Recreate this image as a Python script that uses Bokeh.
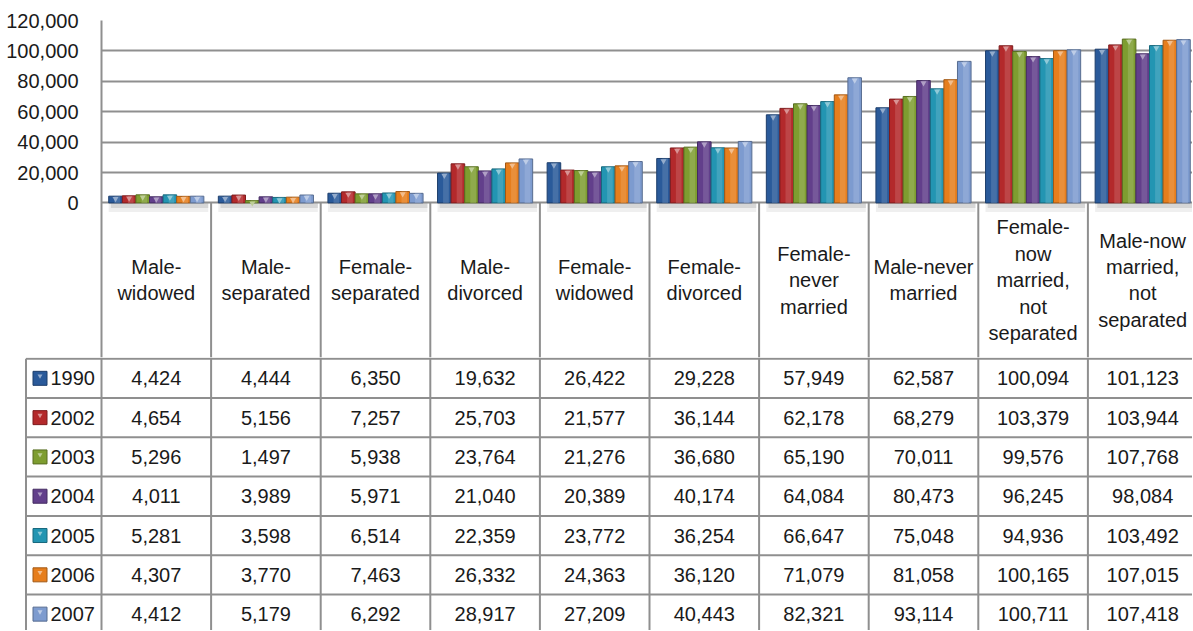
import numpy as np
from bokeh.plotting import figure
from bokeh.models import FixedTicker, NumeralTickFormatter, Range1d, ColumnDataSource
from bokeh.core.properties import value
from bokeh.embed import file_html
from bokeh.resources import INLINE

# ---------------- data ----------------
categories = ["Male-widowed", "Male-separated", "Female-separated", "Male-divorced",
              "Female-widowed", "Female-divorced", "Female-never married",
              "Male-never married", "Female-now married, not separated",
              "Male-now married, not separated"]
header_labels = ["Male-\nwidowed", "Male-\nseparated", "Female-\nseparated", "Male-\ndivorced",
                 "Female-\nwidowed", "Female-\ndivorced", "Female-\nnever\nmarried",
                 "Male-never\nmarried", "Female-\nnow\nmarried,\nnot\nseparated",
                 "Male-now\nmarried,\nnot\nseparated"]
years = ["1990", "2002", "2003", "2004", "2005", "2006", "2007"]
v1990 = [4424, 4444, 6350, 19632, 26422, 29228, 57949, 62587, 100094, 101123]
v2002 = [4654, 5156, 7257, 25703, 21577, 36144, 62178, 68279, 103379, 103944]
v2003 = [5296, 1497, 5938, 23764, 21276, 36680, 65190, 70011, 99576, 107768]
v2004 = [4011, 3989, 5971, 21040, 20389, 40174, 64084, 80473, 96245, 98084]
v2005 = [5281, 3598, 6514, 22359, 23772, 36254, 66647, 75048, 94936, 103492]
v2006 = [4307, 3770, 7463, 26332, 24363, 36120, 71079, 81058, 100165, 107015]
v2007 = [4412, 5179, 6292, 28917, 27209, 40443, 82321, 93114, 100711, 107418]
series = [v1990, v2002, v2003, v2004, v2005, v2006, v2007]
y_ticks = [0, 20000, 40000, 60000, 80000, 100000, 120000]
colors = ["#2A5A9A", "#B3292B", "#7E9D30", "#623F8B", "#2395B2", "#E67E1D", "#7D9BCF"]

# ---------------- layout constants (page pixels) ----------------
FONT = "Liberation Sans"
FS = "20px"
TXT = "#1a1a1a"
LINE = "#8f8f8f"
MARGIN = 0              # the page template renders the figures flush at the top-left
W = 1192
TOTAL_H = 630
COL = 109.6             # px per category column
PLOT_LEFT = 101         # page x of first category column
PAGE_RIGHT = MARGIN + W
PLOT_TOP = 20           # page y of 120,000
ZERO_Y = 202.4          # page y of 0
HEADER_BOTTOM = 357     # page y of table header bottom
ROW_H = 39.3

def shade(c, f):
    c = c.lstrip("#")
    r, g, b = (int(c[i:i + 2], 16) for i in (0, 2, 4))
    if f < 1:
        r, g, b = (int(v * f) for v in (r, g, b))
    else:
        t = f - 1
        r, g, b = (int(v + (255 - v) * t) for v in (r, g, b))
    return "#%02x%02x%02x" % (r, g, b)

x_end = (PAGE_RIGHT - PLOT_LEFT) / COL
n = len(categories)
nser = len(series)
BW = 0.124
val_per_px = max(y_ticks) / (ZERO_Y - PLOT_TOP)
y_bottom = -(HEADER_BOTTOM - ZERO_Y) * val_per_px

# ---------------- top: bar chart + table header ----------------
TOP_H = HEADER_BOTTOM - MARGIN
top = figure(width=W, height=TOP_H, x_range=Range1d(0, x_end),
             y_range=Range1d(y_bottom, max(y_ticks)),
             output_backend="svg", toolbar_location=None, x_axis_location=None,
             min_border_left=PLOT_LEFT - MARGIN, min_border_right=0,
             min_border_top=PLOT_TOP - MARGIN, min_border_bottom=0)
top.outline_line_color = None
top.xgrid.visible = False
top.ygrid.ticker = FixedTicker(ticks=y_ticks)
top.ygrid.grid_line_color = LINE
top.ygrid.grid_line_width = 2
ax = top.yaxis[0]
ax.ticker = FixedTicker(ticks=y_ticks)
ax.formatter = NumeralTickFormatter(format="0,0")
ax.major_tick_in = 0
ax.major_tick_out = 0
ax.minor_tick_in = 0
ax.minor_tick_out = 0
ax.axis_line_color = LINE
ax.axis_line_width = 2
ax.major_label_standoff = 23
ax.major_label_text_font = FONT
ax.major_label_text_font_size = FS
ax.major_label_text_color = TXT

# shadows under each bar group
gl = [i + 0.5 - nser * BW / 2 for i in range(n)]
gr = [i + 0.5 + nser * BW / 2 + 0.04 for i in range(n)]
top.quad(left=gl, right=gr, top=0, bottom=-9 * val_per_px, fill_color="#9a9a9a",
         fill_alpha=0.16, line_color=None)
top.quad(left=[l + 0.02 for l in gl], right=gr, top=0, bottom=-5 * val_per_px,
         fill_color="#8a8a8a", fill_alpha=0.25, line_color=None)

for j, vals in enumerate(series):
    xs = [i + 0.5 + (j - (nser - 1) / 2) * BW for i in range(n)]
    src = ColumnDataSource(dict(x=xs, top=vals))
    top.vbar(x="x", top="top", bottom=0, width=BW, source=src,
             fill_color=colors[j], line_color=shade(colors[j], 0.7), line_width=1)
    hx = [x + BW * 0.12 for x in xs]
    top.vbar(x=hx, top=vals, bottom=0, width=BW * 0.42,
             fill_color=shade(colors[j], 1.3), fill_alpha=0.45, line_color=None)
    capy = [v - 2.5 * val_per_px for v in vals]
    top.scatter(x=xs, y=capy, marker="inverted_triangle", size=6,
                fill_color=shade(colors[j], 1.5), line_color=None)

# vertical separators in header
top.segment(x0=list(range(1, n)), y0=[0] * (n - 1), x1=list(range(1, n)),
            y1=[y_bottom] * (n - 1), line_color=LINE, line_width=2)
# header labels
top.text(x=[i + 0.5 for i in range(n)], y=[y_bottom / 2] * n, text=header_labels,
         text_align="center", text_baseline="middle", text_font=value(FONT),
         text_font_size=FS, text_color=TXT, text_line_height=1.2)

# ---------------- bottom: data rows ----------------
x_start = -(PLOT_LEFT - 24) / COL
leg_x = -(PLOT_LEFT - 25.5) / COL
nrows = len(years)
BOT_H = TOTAL_H - TOP_H
y_top = 0.03
y_start = y_top - BOT_H / ROW_H

bot = figure(width=W, height=BOT_H, x_range=Range1d(x_start, x_end),
             y_range=Range1d(y_start, y_top), output_backend="svg", toolbar_location=None,
             x_axis_location=None, y_axis_location=None,
             min_border_left=24 - MARGIN, min_border_right=0, min_border_top=0,
             min_border_bottom=0)
bot.outline_line_color = None
bot.grid.visible = False

# row lines
bot.segment(x0=[leg_x] * nrows, y0=[-r for r in range(nrows)], x1=[x_end] * nrows,
            y1=[-r for r in range(nrows)], line_color=LINE, line_width=2)
# vertical separators
bot.segment(x0=list(range(n)), y0=[y_top] * n, x1=list(range(n)), y1=[y_start] * n,
            line_color=LINE, line_width=2)
bot.segment(x0=[leg_x], y0=[0], x1=[leg_x], y1=[y_start], line_color=LINE, line_width=2)

# values
tx, ty, tt = [], [], []
for r, vals in enumerate(series):
    for i, v in enumerate(vals):
        tx.append(i + 0.5)
        ty.append(-(r + 0.5))
        tt.append(f"{v:,}")
bot.text(x=tx, y=ty, text=tt, text_align="center", text_baseline="middle",
         text_font=value(FONT), text_font_size=FS, text_color=TXT)

# legend column
ry = [-(r + 0.5) for r in range(nrows)]
sq_x = -(PLOT_LEFT - 39.5) / COL
bot.scatter(x=[sq_x] * nrows, y=ry, marker="square", size=14, fill_color=colors,
            line_color=[shade(c, 0.7) for c in colors], line_width=1)
bot.scatter(x=[sq_x] * nrows, y=[y + 0.06 for y in ry], marker="inverted_triangle", size=5,
            fill_color=[shade(c, 1.5) for c in colors], line_color=None)
bot.text(x=[-(PLOT_LEFT - 50) / COL] * nrows, y=ry, text=years, text_align="left",
         text_baseline="middle", text_font=value(FONT), text_font_size=FS, text_color=TXT)

open("out.html", "w").write(file_html([top, bot], INLINE))
